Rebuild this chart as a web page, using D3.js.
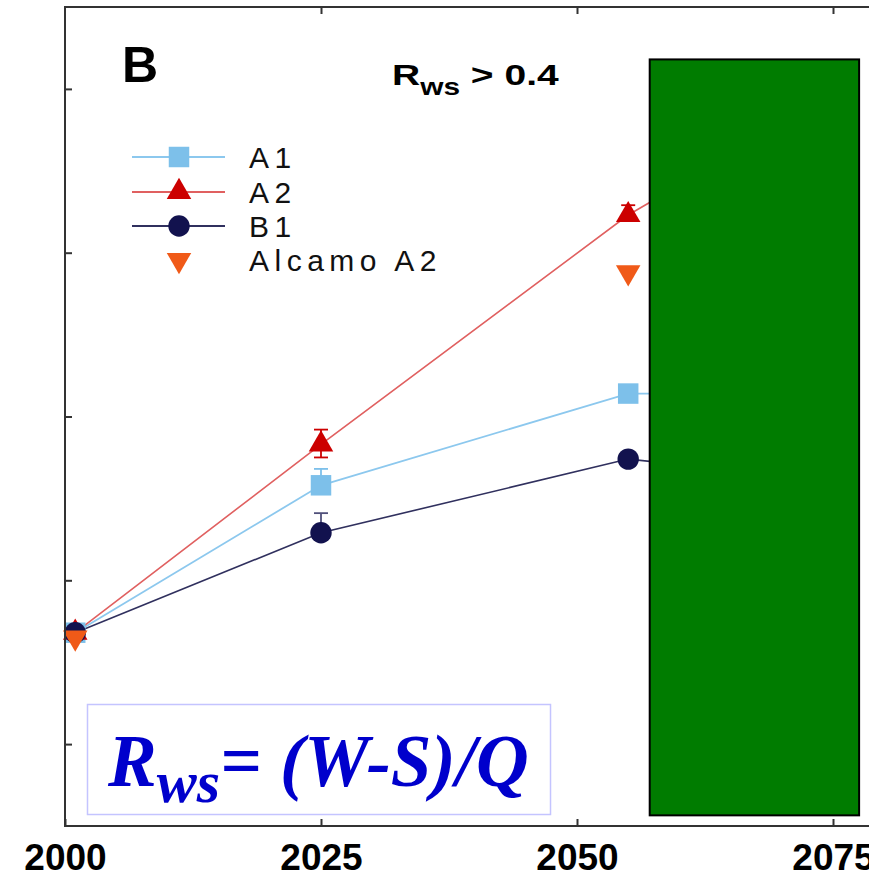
<!DOCTYPE html>
<html>
<head>
<meta charset="utf-8">
<script src="https://cdn.jsdelivr.net/npm/d3@7"></script>
<style>
  body { margin: 0; background: #fff; }
  svg { display: block; }
</style>
</head>
<body>
<div id="chart"></div>
<script>
// data (y in arbitrary units, ticks are unlabeled in the original)
var years = [2001, 2025, 2055, 2075];
var a1 = [1.68, 2.58, 3.14, 3.14];
var a2 = [1.68, 2.83, 4.23, 4.96];
var b1 = [1.68, 2.29, 2.74, 2.61];
var alcamoYears = [2001, 2055];
var alcamo = [1.65, 3.88];
// error bars (up, down)
var a1ErrUp = [0, 0.1, 0, 0];
var a2ErrUp = [0, 0.09, 0.06, 0];
var a2ErrDown = [0, 0.08, 0, 0];
var b1ErrUp = [0, 0.12, 0, 0];
var yTicks = [1, 2, 3, 4, 5];
var xTicks = [2000, 2025, 2050, 2075, 2100];
var legendNames = ['A1', 'A2', 'B1', 'Alcamo A2'];

var W = 869, H = 877;
var svg = d3.select('#chart').append('svg')
    .attr('width', W)
    .attr('height', H);

var x = d3.scaleLinear().domain([2000, 2100]).range([65, 1089]);
var y = d3.scaleLinear().domain([0.5, 5.5]).range([826, 7]);

var colA1 = '#7dc0ea', colA1line = '#8cc8ee';
var colA2 = '#cc0000', colA2line = '#e06060';
var colB1 = '#12124e', colB1line = '#30305e';
var colAl = '#f05a18';

var plot = svg.append('g');

function series(vals, yrs) {
    return vals.map(function (v, i) { return { x: yrs[i], y: v, i: i }; });
}
var line = d3.line().x(function (d) { return x(d.x); }).y(function (d) { return y(d.y); });

// lines
plot.append('path').datum(series(b1, years)).attr('d', line)
    .attr('fill', 'none').attr('stroke', colB1line).attr('stroke-width', 1.6);
plot.append('path').datum(series(a1, years)).attr('d', line)
    .attr('fill', 'none').attr('stroke', colA1line).attr('stroke-width', 1.8);
plot.append('path').datum(series(a2, years)).attr('d', line)
    .attr('fill', 'none').attr('stroke', colA2line).attr('stroke-width', 1.6);

// error bars
function errBars(vals, up, down, col) {
    vals.forEach(function (v, i) {
        var cx = x(years[i]);
        if (up[i] > 0) {
            plot.append('line').attr('x1', cx).attr('x2', cx)
                .attr('y1', y(v)).attr('y2', y(v + up[i]))
                .attr('stroke', col).attr('stroke-width', 1.8);
            plot.append('line').attr('x1', cx - 7).attr('x2', cx + 7)
                .attr('y1', y(v + up[i])).attr('y2', y(v + up[i]))
                .attr('stroke', col).attr('stroke-width', 1.8);
        }
        if (down && down[i] > 0) {
            plot.append('line').attr('x1', cx).attr('x2', cx)
                .attr('y1', y(v)).attr('y2', y(v - down[i]))
                .attr('stroke', col).attr('stroke-width', 1.8);
            plot.append('line').attr('x1', cx - 7).attr('x2', cx + 7)
                .attr('y1', y(v - down[i])).attr('y2', y(v - down[i]))
                .attr('stroke', col).attr('stroke-width', 1.8);
        }
    });
}
errBars(a1, a1ErrUp, null, colA1);
errBars(a2, a2ErrUp, a2ErrDown, colA2);
errBars(b1, b1ErrUp, null, '#50507a');

var sq = d3.symbol().type(d3.symbolSquare).size(420);
var tri = d3.symbol().type(d3.symbolTriangle).size(260);
var circ = d3.symbol().type(d3.symbolCircle).size(360);

function markers(data, sym, col, rot) {
    plot.selectAll(null).data(data).enter().append('path')
        .attr('d', sym)
        .attr('transform', function (d) {
            return 'translate(' + x(d.x) + ',' + y(d.y) + ')' + (rot ? ' rotate(180)' : '');
        })
        .attr('fill', col);
}
markers(series(a1, years), sq, colA1);
markers(series(a2, years), tri, colA2);
markers(series(b1, years), circ, colB1);
markers(series(alcamo, alcamoYears), tri, colAl, true);

// green cover box
plot.append('rect')
    .attr('x', x(2057.1)).attr('y', y(5.18))
    .attr('width', x(2077.55) - x(2057.1))
    .attr('height', y(0.565) - y(5.18))
    .attr('fill', '#007c00')
    .attr('stroke', '#000').attr('stroke-width', 2);

// frame
svg.append('rect')
    .attr('x', 65).attr('y', 7)
    .attr('width', 1089 - 65).attr('height', 826 - 7)
    .attr('fill', 'none').attr('stroke', '#333').attr('stroke-width', 2);

// axes (ticks point inward)
var yAxis = svg.append('g').attr('transform', 'translate(65,0)')
    .call(d3.axisLeft(y).tickValues(yTicks).tickSize(-7).tickFormat(''));
var xBottom = svg.append('g').attr('transform', 'translate(0,826)')
    .call(d3.axisBottom(x).tickValues(xTicks).tickSize(-7).tickPadding(0)
        .tickFormat(d3.format('d')));
var xTop = svg.append('g').attr('transform', 'translate(0,7)')
    .call(d3.axisTop(x).tickValues(xTicks.slice(1)).tickSize(-7).tickFormat(''));
[yAxis, xBottom, xTop].forEach(function (g) {
    g.select('.domain').remove();
    g.selectAll('.tick line').attr('stroke', '#333').attr('stroke-width', 2);
});
xBottom.selectAll('.tick text')
    .attr('y', 44).attr('dy', 0)
    .attr('font-family', 'Liberation Sans, Arial, sans-serif')
    .attr('font-weight', 'bold')
    .attr('font-size', 37)
    .attr('fill', '#000');

// panel letter and title
svg.append('text').attr('x', 122).attr('y', 82)
    .attr('font-family', 'Liberation Sans, Arial, sans-serif')
    .attr('font-weight', 'bold').attr('font-size', 50).text('B');

var title = svg.append('text')
    .attr('transform', 'translate(392,85) scale(1.3,1)')
    .attr('font-family', 'Liberation Sans, Arial, sans-serif')
    .attr('font-weight', 'bold').attr('font-size', 30);
title.append('tspan').text('R');
title.append('tspan').attr('font-size', 23).attr('dy', 10).text('ws');
title.append('tspan').attr('dy', -10).text(' > 0.4');

// legend
var legendY = [157, 192, 226, 260];
var legendCols = [colA1, colA2, colB1, colAl];
var legendLines = [colA1line, colA2line, colB1line, null];
var legendSyms = [sq, tri, circ, tri];
var leg = svg.append('g');
legendNames.forEach(function (name, i) {
    if (legendLines[i]) {
        leg.append('line').attr('x1', 132).attr('x2', 225)
            .attr('y1', legendY[i]).attr('y2', legendY[i])
            .attr('stroke', legendLines[i]).attr('stroke-width', 2);
    }
    leg.append('path').attr('d', legendSyms[i])
        .attr('transform', 'translate(179,' + legendY[i] + ')' + (i === 3 ? ' rotate(180)' : ''))
        .attr('fill', legendCols[i]);
    leg.append('text').attr('x', 249).attr('y', legendY[i] + 11)
        .attr('font-family', 'Liberation Sans, Arial, sans-serif')
        .attr('font-size', 30).attr('letter-spacing', 5.5)
        .attr('fill', '#111').text(name);
});

// formula box
svg.append('rect').attr('x', 87.5).attr('y', 704.5)
    .attr('width', 463).attr('height', 110)
    .attr('fill', '#fff').attr('stroke', '#c4c4ff').attr('stroke-width', 1.5);
var f = svg.append('text').attr('x', 108).attr('y', 786)
    .attr('font-family', 'Liberation Serif, Times New Roman, serif')
    .attr('font-style', 'italic').attr('font-weight', 'bold')
    .attr('font-size', 73).attr('fill', '#0000cc');
f.append('tspan').text('R');
f.append('tspan').attr('font-size', 60).attr('dy', 16).text('ws');
f.append('tspan').attr('dy', -16).text('= (W-S)/Q');
</script>
</body>
</html>
